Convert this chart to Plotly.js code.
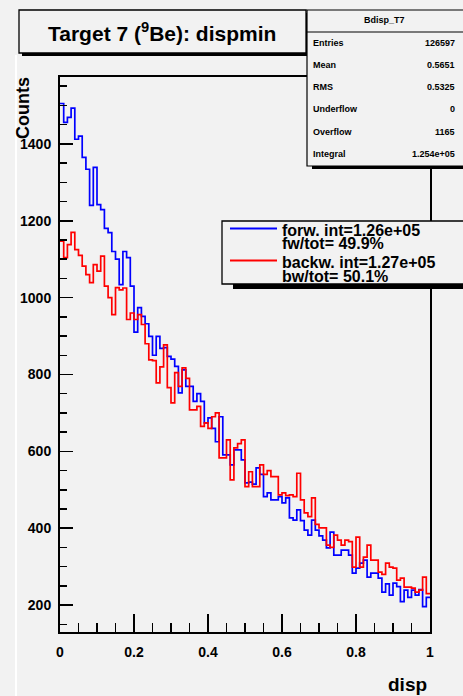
<!DOCTYPE html>
<html>
<head>
<meta charset="utf-8">
<script src="https://cdn.plot.ly/plotly-3.0.1.min.js"></script>
<style>
html,body{margin:0;padding:0;background:#f2f2f2;}
#plot{width:463px;height:696px;}
</style>
</head>
<body>
<div id="plot"></div>
<script>
// ---- data (100 bins over [0,1]) ----
const binLow = 0;
const binHigh = 1;
const forwCounts = [
1505,1456,1469,1493,1412,1420,1365,1334,1240,1339,
1242,1229,1180,1169,1120,1100,1034,1120,1104,1030,
910,974,951,932,899,850,899,868,870,847,
840,821,752,812,769,769,730,750,730,674,
687,660,625,690,591,591,565,604,604,578,
518,520,515,557,540,482,492,474,474,482,
466,479,427,421,448,420,395,382,421,395,
380,369,349,390,330,330,343,343,330,283,
296,309,317,273,283,283,270,234,255,226,
257,248,209,239,220,239,226,240,196,220
];
const backwCounts = [
1147,1104,1138,1170,1125,1110,1082,1060,1039,1086,
1069,1108,1030,1000,956,1026,1020,1025,943,960,
943,956,930,880,838,836,778,820,877,766,
726,805,769,817,790,708,708,717,665,674,
660,690,700,583,583,630,526,609,620,630,
508,547,508,508,565,540,550,534,534,487,
492,485,487,482,543,474,440,430,479,410,
401,401,356,350,382,369,356,369,365,299,
377,299,325,356,317,317,286,280,309,299,
296,265,270,247,247,244,234,239,273,230
];
const legendLines = [
  "forw. int=1.26e+05", "fw/tot= 49.9%",
  "backw. int=1.27e+05", "bw/tot= 50.1%"
];
const statsTitle = "Bdisp_T7";
const statsNames = ["Entries","Mean","RMS","Underflow","Overflow","Integral"];
const statsValues = ["126597","0.5651","0.5325","0","1165","1.254e+05"];
const chartTitle = "Target 7 (<sup>9</sup>Be): dispmin";
const xTitle = "disp";
const yTitle = "Counts";

// ---- build step traces from the bin arrays ----
function stepTrace(counts, color){
  const n = counts.length;
  const xs = [], ys = [];
  for(let i=0;i<=n;i++){
    xs.push(binLow + (binHigh-binLow)*i/n);
    ys.push(counts[Math.min(i,n-1)]);
  }
  return {x:xs, y:ys, type:'scatter', mode:'lines',
          line:{shape:'hv', color:color, width:1.7}, hoverinfo:'skip', showlegend:false};
}

// ---- layout helpers: pixel -> paper ----
const W=463, H=696, L=60, R=33, T=77, B=64;
const PW = W-L-R, PH = H-T-B;
const px = x => (x-L)/PW;
const py = y => (H-B-y)/PH;

const FONT = "Liberation Sans, Arial, Helvetica, sans-serif";
const gray = "#f2f2f2";

function rect(x0,y0,x1,y1,fill,lineW){
  return {type:'rect', xref:'paper', yref:'paper', x0:px(x0), x1:px(x1), y0:py(y1), y1:py(y0),
          fillcolor:fill, line:{color:'black', width:lineW}, layer:'above'};
}
function hline(x0,x1,y,color,w){
  return {type:'line', xref:'paper', yref:'paper', x0:px(x0), x1:px(x1), y0:py(y), y1:py(y),
          line:{color:color, width:w}, layer:'above'};
}

const shapes = [
  {type:'line', xref:'paper', yref:'paper', x0:px(16), x1:px(16), y0:py(55), y1:py(696),
   line:{color:'white', width:2}, layer:'below'},
  rect(22,13,309,56,'black',0),
  rect(19,10,306,53,gray,1.3),
  rect(312,13,466,169,'black',0),
  rect(307,10,470,166,gray,1.2),
  hline(307,470,32,'black',1),
  rect(233,224,470,289,'black',0),
  rect(222,221,470,284,gray,1.3),
  hline(230,277,228.5,'#0000ff',2),
  hline(230,277,260.5,'#ff0000',2)
];

const annotations = [
  {text:chartTitle, xref:'paper', yref:'paper', x:px(162), y:py(32), xanchor:'center', yanchor:'middle',
   showarrow:false, font:{family:FONT, size:21, color:'black', weight:'bold'}},
  {text:statsTitle, xref:'paper', yref:'paper', x:px(384), y:py(20), xanchor:'center', yanchor:'middle',
   showarrow:false, font:{family:FONT, size:9, color:'black', weight:'bold'}},
  {text:xTitle, xref:'paper', yref:'paper', x:px(429), y:py(684), xanchor:'right', yanchor:'middle',
   showarrow:false, font:{family:FONT, size:19, color:'black', weight:'bold'}},
  {text:yTitle, xref:'paper', yref:'paper', x:px(23), y:py(75), xanchor:'center', yanchor:'top',
   textangle:-90, showarrow:false, font:{family:FONT, size:18, color:'black', weight:'bold'}}
];
const legendY = [230.5, 243.5, 262, 276.5];
legendLines.forEach((t,i)=>{
  annotations.push({text:t, xref:'paper', yref:'paper', x:px(281), y:py(legendY[i]), xanchor:'left', yanchor:'middle',
    showarrow:false, borderpad:0, font:{family:FONT, size:16, color:'black', weight:'bold'}});
});
const rowY = [43,65,87,109,132,154];
statsNames.forEach((nm,i)=>{
  annotations.push({text:nm, xref:'paper', yref:'paper', x:px(311), y:py(rowY[i]), xanchor:'left', yanchor:'middle',
    showarrow:false, font:{family:FONT, size:9, color:'black', weight:'bold'}});
  annotations.push({text:statsValues[i], xref:'paper', yref:'paper', x:px(457), y:py(rowY[i]), xanchor:'right', yanchor:'middle',
    showarrow:false, font:{family:FONT, size:9, color:'black', weight:'bold'}});
});

const tickFont = {family:FONT, size:14, color:'black', weight:'bold'};

const layout = {
  width:W, height:H,
  margin:{l:L, r:R, t:T, b:B, pad:0},
  paper_bgcolor:gray, plot_bgcolor:gray,
  showlegend:false,
  xaxis:{range:[0,1], dtick:0.2, tick0:0, ticks:'inside', ticklen:18, tickwidth:1.5, tickcolor:'black',
         showline:true, mirror:true, linewidth:2, linecolor:'black', showgrid:false, zeroline:false,
         tickfont:tickFont, ticklabelstandoff:6,
         minor:{dtick:0.05, ticks:'inside', ticklen:9, tickwidth:1.5, tickcolor:'black', showgrid:false}},
  yaxis:{range:[130,1574], dtick:200, tick0:0, ticks:'inside', ticklen:13, tickwidth:1.5, tickcolor:'black',
         showline:true, mirror:true, linewidth:2, linecolor:'black', showgrid:false, zeroline:false,
         tickfont:tickFont, ticklabelstandoff:4,
         minor:{dtick:50, ticks:'inside', ticklen:7, tickwidth:1.5, tickcolor:'black', showgrid:false}},
  shapes:shapes,
  annotations:annotations
};

Plotly.newPlot('plot', [stepTrace(forwCounts,'#0000ff'), stepTrace(backwCounts,'#ff0000')], layout,
  {staticPlot:true, displayModeBar:false});
</script>
</body>
</html>
